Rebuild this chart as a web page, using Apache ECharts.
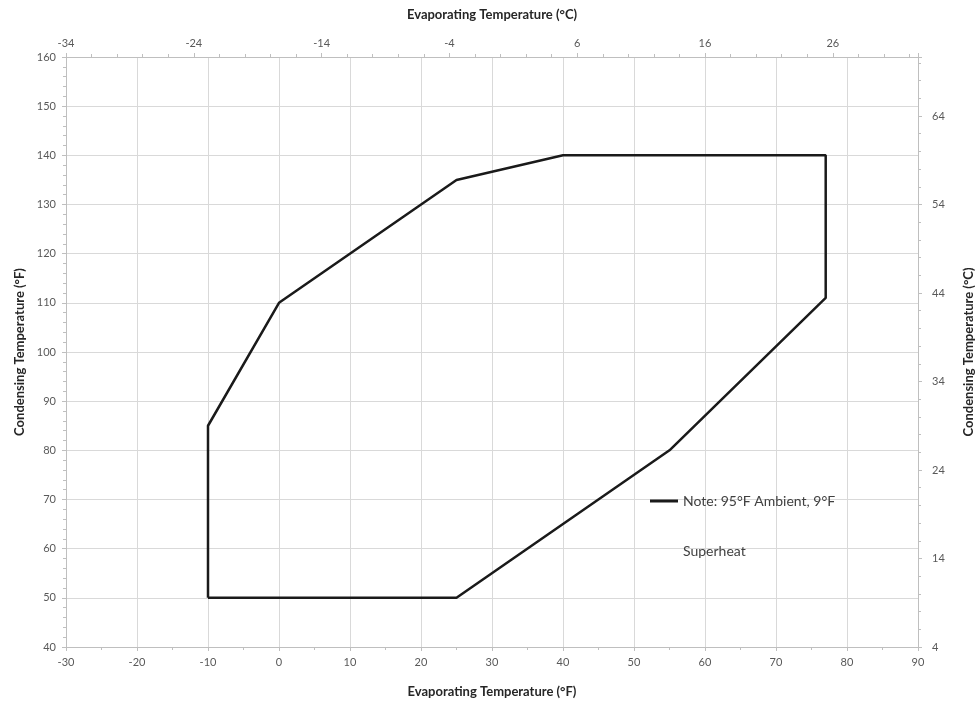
<!DOCTYPE html>
<html>
<head>
<meta charset="utf-8">
<script src="https://cdn.jsdelivr.net/npm/echarts@6/dist/echarts.min.js"></script>
<style>
    html, body { margin: 0; padding: 0; background: #fff; }
    #main { width: 980px; height: 702px; }
</style>
</head>
<body>
<div id="main"></div>
<script>
// envelope corners, evaporating (°F) / condensing (°F)
var evapF = [-10, -10, 0, 25, 40, 77, 77, 55, 25, -10]
var condF = [50, 85, 110, 135, 140, 140, 111, 80, 50, 50]
var seriesName = 'Note: 95°F Ambient, 9°F Superheat'

var fontColor = '#595959'
var axisLineColor = '#bfbfbf'
var splitLineColor = '#d9d9d9'
var font = 'Lato, "Open Sans", sans-serif'

var points = []
for (var i = 0; i < evapF.length; i++) {
    points.push([evapF[i], condF[i]])
}

function axisBase() {
    return {
        type: 'value',
        axisLine: { show: true, onZero: false, lineStyle: { color: axisLineColor, width: 1 } },
        axisTick: { show: true, length: 4, lineStyle: { color: axisLineColor } },
        minorTick: { show: true, length: 3, lineStyle: { color: axisLineColor } },
        axisLabel: { color: fontColor, fontSize: 11, fontFamily: font },
        splitLine: { show: false },
        minorSplitLine: { show: false },
        nameLocation: 'middle',
        nameTextStyle: { color: '#262626', fontSize: 13, fontWeight: 'bold', fontFamily: font }
    }
}

var xBottom = axisBase()
xBottom.position = 'bottom'
xBottom.min = -30
xBottom.max = 90
xBottom.interval = 10
xBottom.minorTick.splitNumber = 2
xBottom.splitLine = { show: true, lineStyle: { color: splitLineColor } }
xBottom.name = 'Evaporating Temperature (°F)'
xBottom.nameGap = 38
xBottom.axisLabel.margin = 10

var xTop = axisBase()
xTop.position = 'top'
xTop.min = -34
xTop.max = -34 + 120 * 5 / 9
xTop.interval = 10
xTop.minorTick.splitNumber = 5
xTop.axisLabel.showMaxLabel = false
xTop.name = 'Evaporating Temperature (°C)'
xTop.nameGap = 36
xTop.axisLabel.margin = 8

var yLeft = axisBase()
yLeft.position = 'left'
yLeft.min = 40
yLeft.max = 160
yLeft.interval = 10
yLeft.minorTick.splitNumber = 5
yLeft.splitLine = { show: true, lineStyle: { color: splitLineColor } }
yLeft.name = 'Condensing Temperature (°F)'
yLeft.nameRotate = 90
yLeft.nameGap = 40
yLeft.axisLabel.margin = 10

var yRight = axisBase()
yRight.position = 'right'
yRight.min = 4
yRight.max = 4 + 120 * 5 / 9
yRight.interval = 10
yRight.minorTick.splitNumber = 5
yRight.axisLabel.showMaxLabel = false
yRight.name = 'Condensing Temperature (°C)'
yRight.nameRotate = 90
yRight.nameGap = 44
yRight.axisLabel.margin = 14

var option = {
    backgroundColor: '#fff',
    animation: false,
    grid: {
        left: 66,
        right: 62,
        top: 57,
        bottom: 55,
        containLabel: false,
        outerBoundsMode: 'none'
    },
    legend: {
        show: true,
        left: 645,
        top: 421,
        itemWidth: 28,
        itemHeight: 3,
        icon: 'rect',
        data: [seriesName],
        formatter: function() {
            return '\nNote: 95°F Ambient, 9°F\nSuperheat'
        },
        textStyle: {
            color: '#404040',
            fontSize: 14,
            fontFamily: font,
            lineHeight: 50
        }
    },
    xAxis: [xBottom, xTop],
    yAxis: [yLeft, yRight],
    series: [{
        name: seriesName,
        type: 'line',
        xAxisIndex: 0,
        yAxisIndex: 0,
        showSymbol: false,
        symbol: 'none',
        itemStyle: { color: '#1a1a1a' },
        lineStyle: { color: '#1a1a1a', width: 2.5 },
        data: points
    }]
}

var myChart = echarts.init(document.getElementById('main'))
myChart.setOption(option)
window.addEventListener('resize', function() {
    myChart.resize()
})
</script>
</body>
</html>
